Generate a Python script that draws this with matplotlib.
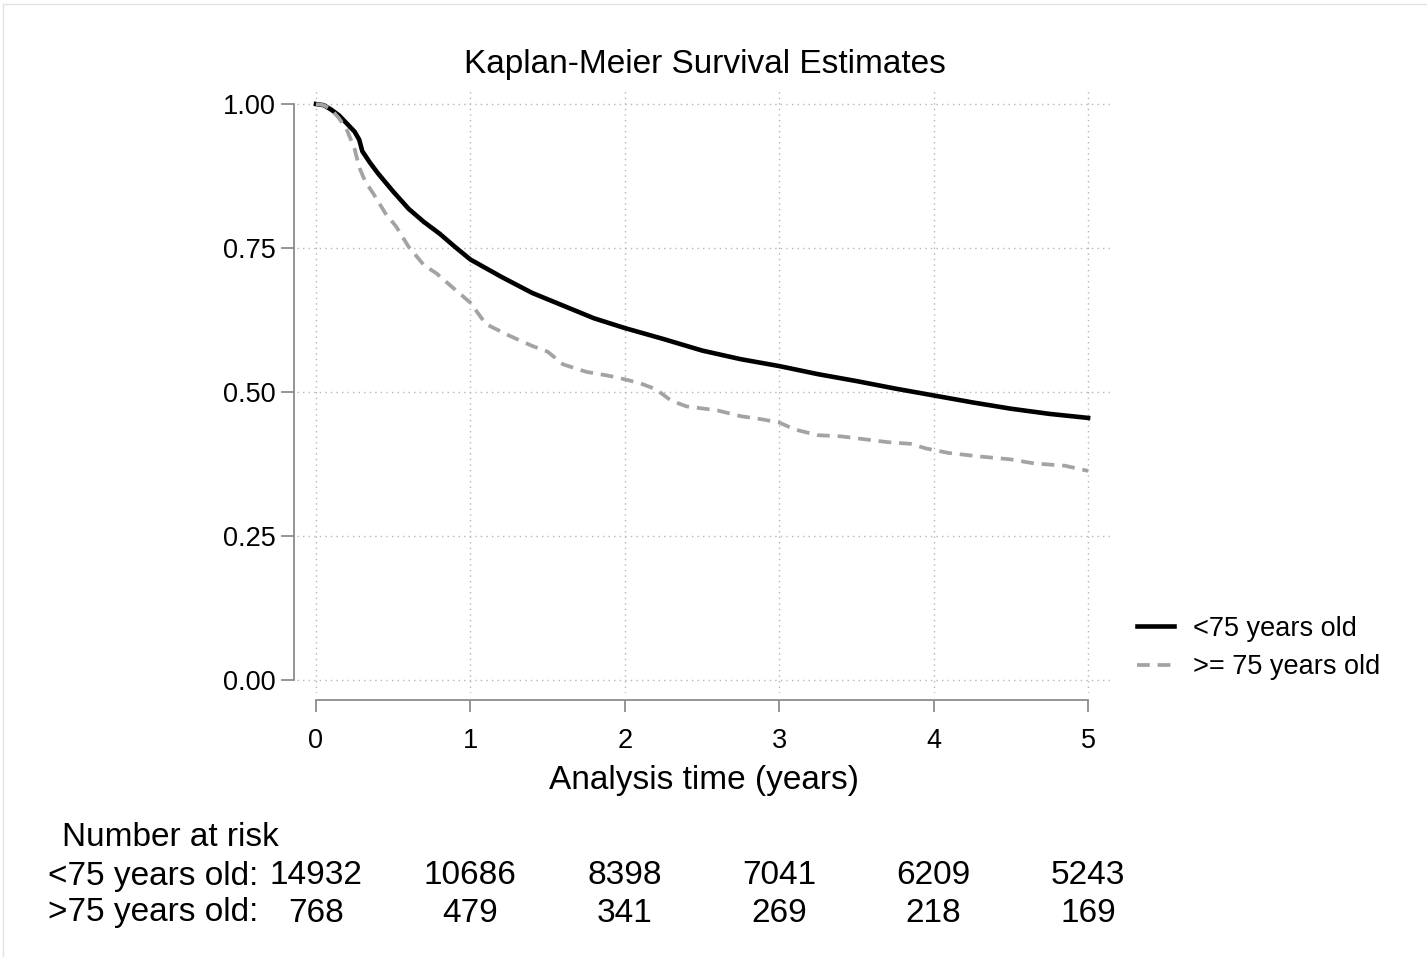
import matplotlib.pyplot as plt
from matplotlib.transforms import blended_transform_factory
from matplotlib.lines import Line2D

plt.rcParams['font.family'] = ['Liberation Sans', 'DejaVu Sans']

# survival curves
t_young = [0, 0.05, 0.1, 0.15, 0.2, 0.25, 0.28, 0.3, 0.35, 0.4, 0.5, 0.6, 0.7, 0.8,
           0.9, 1.0, 1.2, 1.4, 1.6, 1.8, 2.0, 2.25, 2.5, 2.75, 3.0, 3.25, 3.5,
           3.75, 4.0, 4.25, 4.5, 4.75, 5.0]
s_young = [1.0, 0.998, 0.99, 0.98, 0.966, 0.952, 0.938, 0.918, 0.898, 0.88, 0.848, 0.818,
           0.795, 0.775, 0.752, 0.73, 0.7, 0.672, 0.65, 0.628, 0.611, 0.592, 0.572,
           0.557, 0.545, 0.531, 0.519, 0.506, 0.494, 0.482, 0.471, 0.462, 0.455]

t_old = [0, 0.05, 0.1, 0.15, 0.2, 0.25, 0.28, 0.32, 0.37, 0.45, 0.52, 0.6, 0.7, 0.78,
         0.9, 1.0, 1.1, 1.25, 1.4, 1.5, 1.6, 1.75, 1.9, 2.0, 2.1, 2.2, 2.3, 2.4,
         2.6, 2.75, 2.9, 3.0, 3.1, 3.25, 3.4, 3.55, 3.7, 3.85, 3.95, 4.1, 4.3,
         4.5, 4.65, 4.85, 5.0]
s_old = [1.0, 0.998, 0.99, 0.975, 0.955, 0.922, 0.89, 0.865, 0.845, 0.81, 0.787, 0.752,
         0.72, 0.706, 0.678, 0.655, 0.618, 0.598, 0.58, 0.57, 0.548, 0.535, 0.528,
         0.522, 0.515, 0.505, 0.485, 0.475, 0.468, 0.458, 0.452, 0.447, 0.435,
         0.425, 0.423, 0.418, 0.413, 0.41, 0.402, 0.394, 0.388, 0.383, 0.376,
         0.372, 0.363]

risk_times = [0, 1, 2, 3, 4, 5]
risk_young = [14932, 10686, 8398, 7041, 6209, 5243]
risk_old = [768, 479, 341, 269, 218, 169]

W, H = 1427, 957
fig = plt.figure(figsize=(W / 100, H / 100), dpi=100)
ax = fig.add_axes([297 / W, 1 - 693 / H, 813 / W, 605 / H])

ax.plot(t_young, s_young, color='black', lw=3.3, label='<75 years old')
ax.plot(t_old, s_old, color='#a3a3a3', lw=2.7, linestyle=(0, (3.4, 2.1)),
        label='>= 75 years old')

ax.set_xlim(-0.123, 5.142)
ax.set_ylim(-0.0226, 1.0278)
ax.set_xticks(risk_times)
ax.set_yticks([0, 0.25, 0.5, 0.75, 1.0])
ax.set_yticklabels(['0.00', '0.25', '0.50', '0.75', '1.00'])
ax.grid(True, color='#b5b5b5', lw=1, linestyle=(0, (1, 3)))
ax.set_axisbelow(True)

for side in ['top', 'right']:
    ax.spines[side].set_visible(False)
ax.spines['left'].set_position(('outward', 2))
ax.spines['bottom'].set_position(('outward', 5))
ax.spines['left'].set_bounds(0, 1)
ax.spines['bottom'].set_bounds(0, 5)
for side in ['left', 'bottom']:
    ax.spines[side].set_color('#8c8c8c')
    ax.spines[side].set_linewidth(1.3)
ax.tick_params(direction='out', width=1.3, color='#8c8c8c', labelsize=19.5)
ax.tick_params(axis='y', length=9.6, pad=4)
ax.tick_params(axis='x', length=8.4, pad=12)

fig.text(705 / W, 1 - 65 / H, 'Kaplan-Meier Survival Estimates', ha='center',
         va='center', fontsize=24)
fig.text(704 / W, 1 - 781 / H, 'Analysis time (years)', ha='center',
         va='center', fontsize=24)

fig.legend(loc='center left', bbox_to_anchor=(1113 / W, 1 - 648 / H),
           frameon=False, fontsize=19.5, handlelength=1.35, handletextpad=0.72,
           labelspacing=0.47)

# number at risk table
tr = blended_transform_factory(ax.transData, fig.transFigure)
fig.text(62 / W, 1 - 838 / H, 'Number at risk', ha='left', va='center', fontsize=24)
fig.text(48 / W, 1 - 876 / H, '<75 years old:', ha='left', va='center', fontsize=24)
fig.text(48 / W, 1 - 913 / H, '>75 years old:', ha='left', va='center', fontsize=24)
for t, a, b in zip(risk_times, risk_young, risk_old):
    ax.text(t, 1 - 876 / H, str(a), transform=tr, ha='center', va='center', fontsize=24)
    ax.text(t, 1 - 913 / H, str(b), transform=tr, ha='center', va='center', fontsize=24)

# faint outer frame
fig.add_artist(Line2D([3 / W, 1], [1 - 4 / H, 1 - 4 / H], color='#e2e2e2', lw=1))
fig.add_artist(Line2D([3 / W, 3 / W], [0, 1 - 4 / H], color='#e2e2e2', lw=1))

fig.savefig('out.png', dpi=100)
